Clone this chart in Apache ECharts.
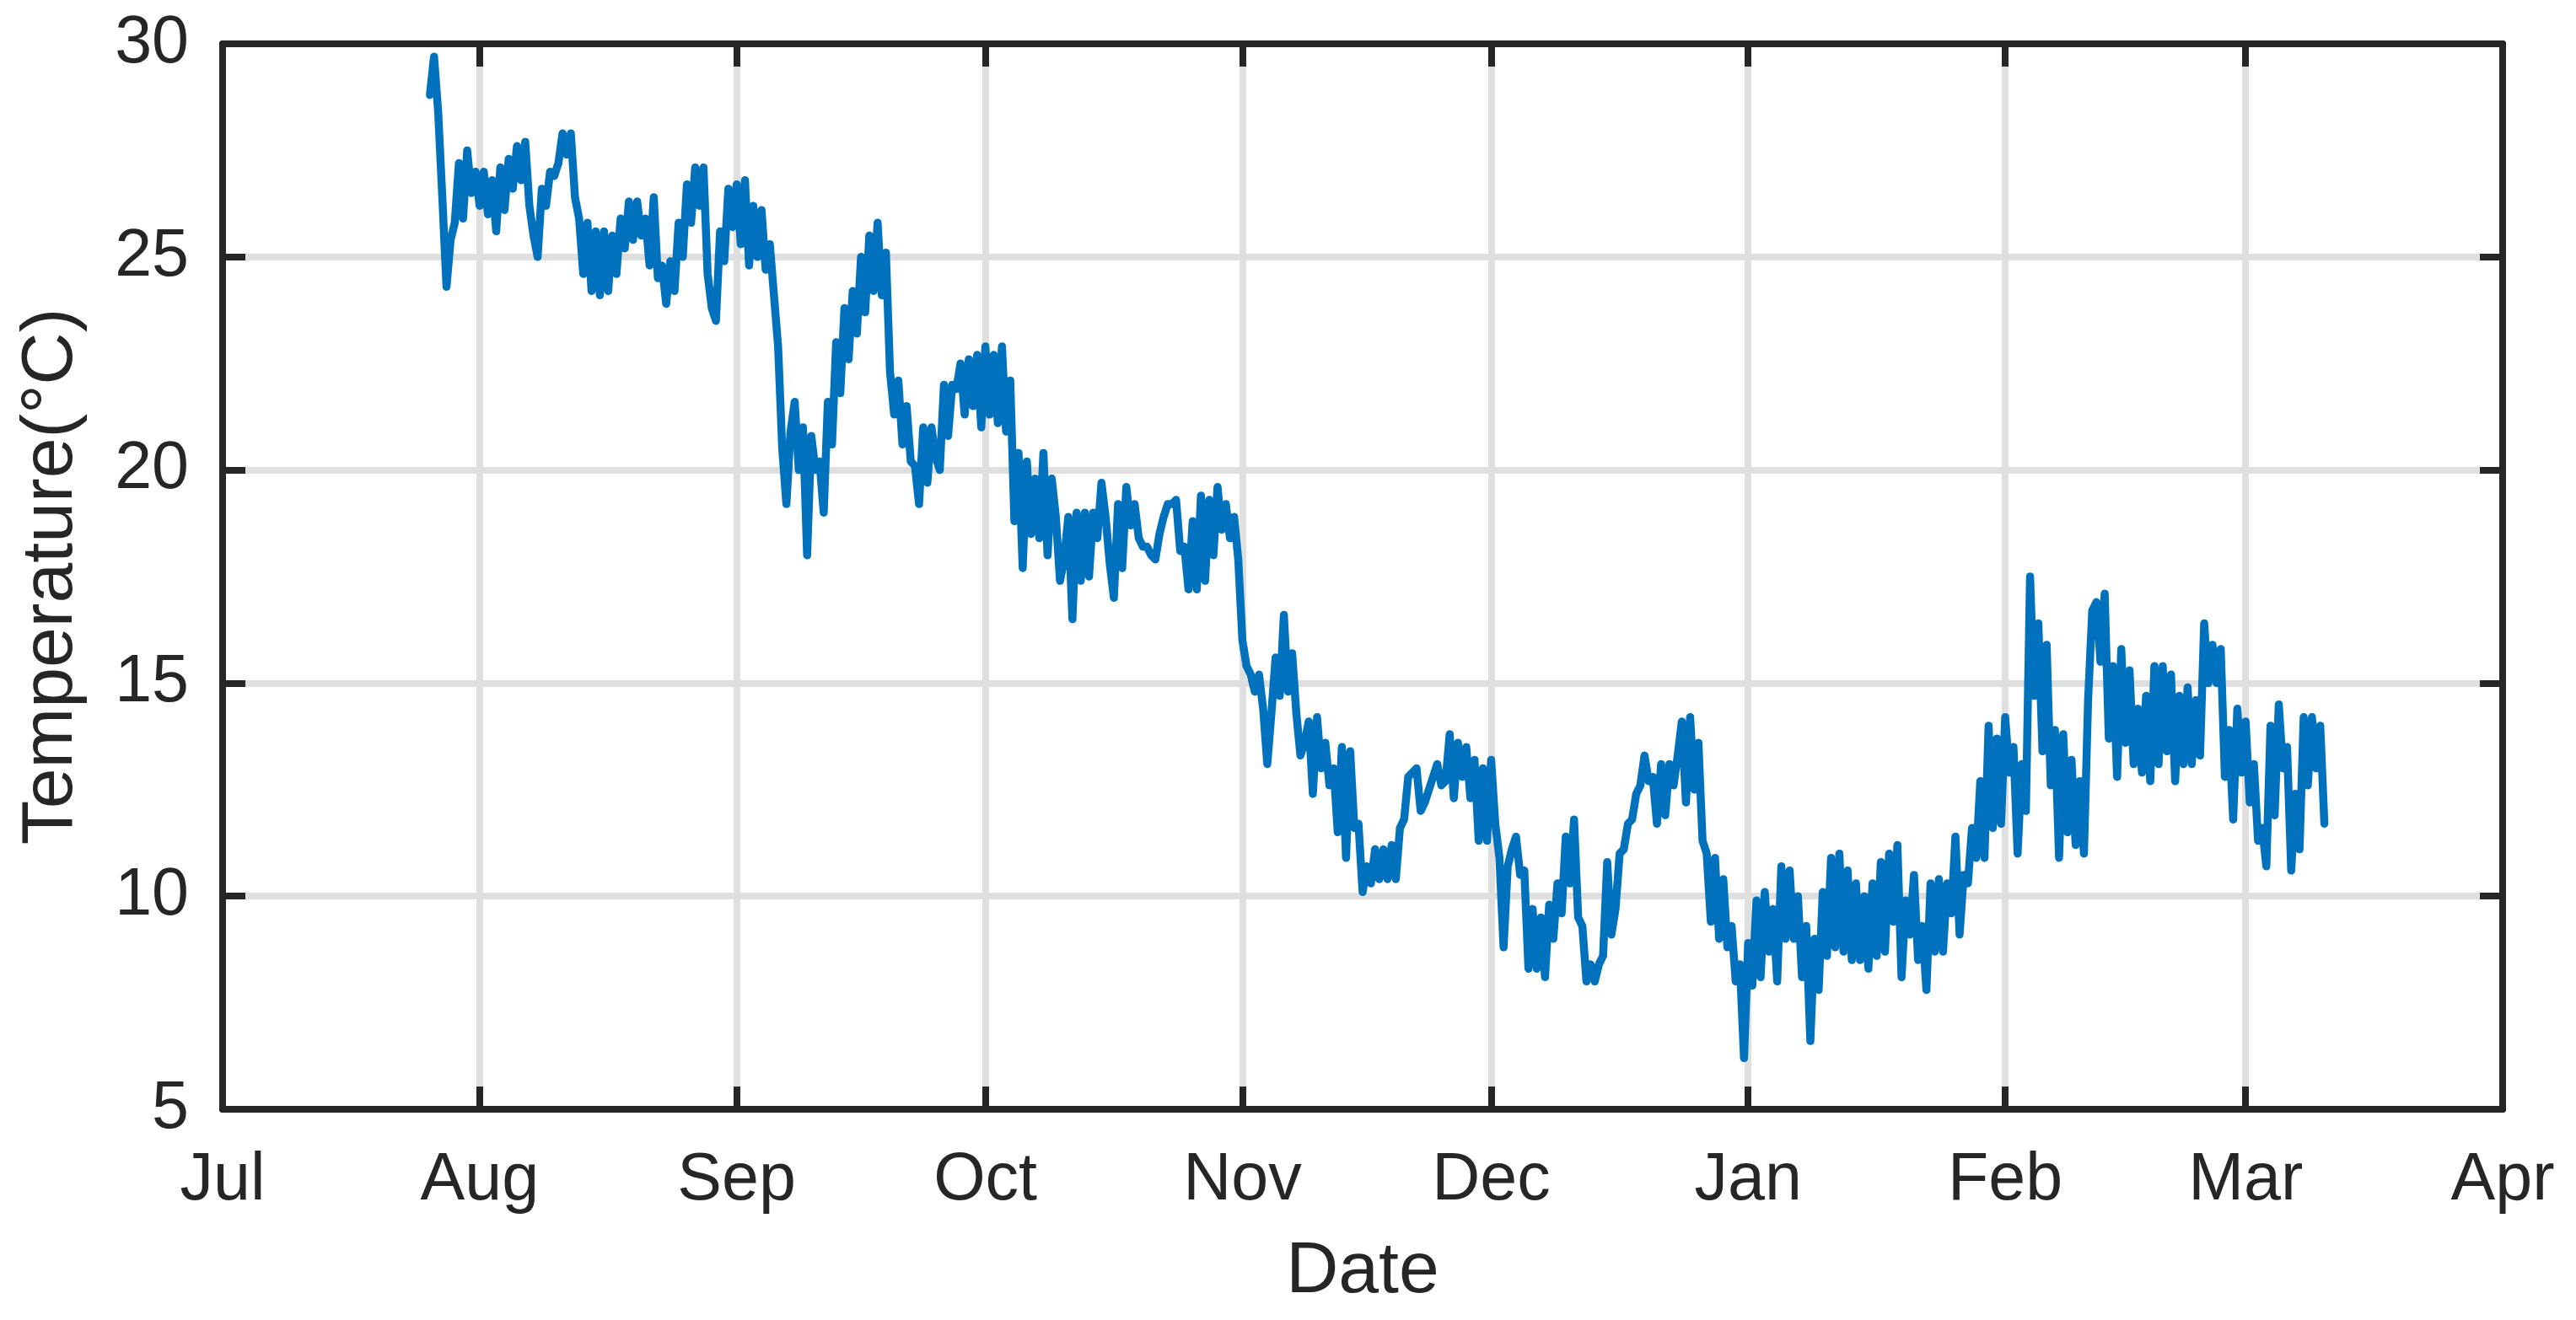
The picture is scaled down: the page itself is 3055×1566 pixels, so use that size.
<!DOCTYPE html>
<html>
<head>
<meta charset="utf-8">
<title>Temperature</title>
<script src="https://cdn.jsdelivr.net/npm/echarts@6.0.0/dist/echarts.min.js"></script>
<style>
    html, body { margin: 0; padding: 0; background: #fff; }
    #chart { width: 3055px; height: 1566px; }
</style>
</head>
<body>
<div id="chart"></div>
<script>
// readings: one every 12 hours, starting 2019-07-26 00:00
var startDate = [2019, 6, 26];
var stepHours = 12;

// x axis range: Jul 1 2019 .. Apr 1 2020
var axisStart = [2019, 6, 1];
var axisEnd = [2020, 3, 1];
var monthLabels = ['Jan', 'Feb', 'Mar', 'Apr', 'May', 'Jun', 'Jul', 'Aug', 'Sep', 'Oct', 'Nov', 'Dec'];

// y axis ticks
var yMin = 5;
var yMax = 30;
var yStep = 5;

// temperature (°C)
var temps = [
    // late Jul - Aug
    28.8, 29.7, 28.4, 26.4, 24.3, 25.4, 25.8, 27.2, 25.9, 27.5,
    26.5, 27.0, 26.2, 27.0, 26.0, 26.8, 25.6, 27.1, 26.1, 27.3,
    26.6, 27.6, 26.8, 27.7, 26.2, 25.5, 25.0, 26.6, 26.2, 27.0,
    26.9, 27.2, 27.9, 27.4, 27.9, 26.4, 25.9, 24.6, 25.8, 24.2,
    25.6, 24.1, 25.6, 24.2, 25.5, 24.6, 25.9, 25.2, 26.3, 25.4,
    26.3, 25.5, 25.9, 24.8, 26.4, 24.5, 24.8, 23.9, 24.9, 24.2,
    25.8, 25.0, 26.7, 25.8, 27.1,
    // end Aug - Sep
    26.2, 27.1, 24.6, 23.8, 23.5, 25.6, 24.9, 26.6, 25.7, 26.7,
    25.3, 26.8, 24.8, 26.2, 25.0, 26.1, 24.7, 25.3, 24.1, 22.9,
    20.5, 19.2, 20.9, 21.6, 20.0, 21.0, 18.0, 20.8, 20.0, 20.2,
    19.0, 21.6, 20.6, 23.0, 21.8, 23.8, 22.6, 24.2, 23.2, 25.0,
    23.7, 25.5, 24.2, 25.8, 24.1, 25.1, 22.3, 21.3, 22.1, 20.6,
    21.5, 20.2, 20.1, 19.2, 21.0, 19.7, 21.0, 20.3,
    // end Sep - Oct
    20.0, 22.0, 20.8, 22.0, 21.9, 22.5, 21.3, 22.6, 21.5, 22.7,
    21.0, 22.9, 21.3, 22.7, 21.1, 22.9, 20.9, 22.1, 18.8, 20.4,
    17.7, 20.2, 18.5, 19.8, 18.4, 20.4, 18.0, 19.8, 18.9, 17.4,
    17.9, 18.9, 16.5, 19.0, 17.4, 19.0, 17.5, 19.0, 18.4, 19.7,
    18.9, 17.8, 17.0, 19.2, 17.7, 19.6, 18.7, 19.2, 18.4, 18.2,
    18.2, 18.0, 17.9, 18.5, 18.9, 19.2, 19.2, 19.3, 18.1, 18.2,
    17.2, 18.8, 17.2, 19.4, 17.4,
    // end Oct - Nov
    19.3, 18.0, 19.6, 18.6, 19.2, 18.4, 18.9, 17.9, 16.0, 15.4,
    15.2, 14.8, 15.2, 14.4, 13.1, 14.3, 15.6, 14.7, 16.6, 14.8,
    15.7, 14.3, 13.3, 13.6, 14.1, 12.4, 14.2, 13.0, 13.6, 12.6,
    13.0, 11.5, 13.5, 10.9, 13.4, 11.6, 11.7, 10.1, 10.7, 10.3,
    11.1, 10.4, 11.1, 10.4, 11.2, 10.4, 11.6, 11.8, 12.8, 12.9,
    13.0, 12.0, 12.2, 12.5, 12.8, 13.1, 12.6, 12.7, 13.8, 12.3,
    13.6,
    // end Nov - Dec
    12.8, 13.5, 12.3, 13.2, 11.3, 13.0, 11.3, 13.2, 11.7, 10.9,
    8.8, 10.7, 11.1, 11.4, 10.5, 10.6, 8.3, 9.7, 8.3, 9.5,
    8.1, 9.8, 9.0, 10.3, 9.6, 11.4, 10.3, 11.8, 9.5, 9.3,
    8.0, 8.4, 8.0, 8.4, 8.6, 10.8, 9.1, 9.7, 11.0, 11.1,
    11.7, 11.8, 12.4, 12.6, 13.3, 12.7, 12.8, 11.7, 13.1, 11.9,
    13.1, 12.6, 13.3, 14.1, 12.2, 14.2, 12.5, 13.6, 11.3, 11.0,
    9.4,
    // end Dec - Jan
    10.9, 9.0, 10.4, 8.8, 9.3, 8.0, 8.4, 6.2, 8.9, 7.9,
    9.9, 8.1, 10.1, 8.7, 9.7, 8.0, 10.7, 9.0, 10.6, 9.0,
    10.0, 8.1, 9.3, 6.6, 9.0, 7.8, 10.1, 8.6, 10.9, 8.8,
    11.0, 8.7, 10.6, 8.5, 10.3, 8.5, 10.0, 8.3, 10.3, 8.6,
    10.8, 8.7, 11.0, 9.4, 11.2, 8.1, 9.9, 9.1, 10.5, 8.5,
    9.3, 7.8, 10.3, 8.7, 10.4, 8.7, 10.3, 9.6, 11.4, 9.1,
    10.5,
    // end Jan - Mar
    10.3, 11.6, 10.9, 12.7, 10.9, 14.0, 11.6, 13.7, 11.7, 14.2,
    12.9, 13.5, 11.0, 13.1, 12.0, 17.5, 14.7, 16.4, 13.4, 15.9,
    12.6, 13.9, 10.9, 13.8, 11.5, 13.2, 11.2, 12.7, 11.0, 14.6,
    16.7, 16.9, 15.5, 17.1, 13.7, 15.4, 12.8, 15.8, 13.6, 15.3,
    13.1, 14.4, 12.9, 14.7, 12.7, 15.4, 13.1, 15.4, 13.4, 15.2,
    12.7, 14.7, 13.1, 14.9, 13.1, 14.6, 13.3, 16.4, 15.0, 15.9,
    15.0, 15.8, 12.8, 13.9, 11.8, 14.4, 12.9, 14.1, 12.2, 13.1,
    11.3, 11.6, 10.7, 14.0, 11.9, 14.5, 13.0, 13.5, 10.6, 12.4,
    11.1, 14.2, 12.6, 14.2, 13.0, 14.0, 11.7
];

var DAY = 24 * 3600 * 1000;
var textColor = '#262626';
var gridColor = '#dfdfdf';
var lineColor = '#0072bd';
var fontFamily = '"Liberation Sans", Arial, Helvetica, sans-serif';

var t0 = new Date(startDate[0], startDate[1], startDate[2]).getTime();
var seriesData = [];
for (var i = 0; i < temps.length; i++) {
    seriesData.push([t0 + i * stepHours * 3600 * 1000, temps[i]]);
}

var xMin = new Date(axisStart[0], axisStart[1], axisStart[2]).getTime();
var xMax = new Date(axisEnd[0], axisEnd[1], axisEnd[2]).getTime();

function timeAxis(pos, withLabels) {
    return {
        type: 'time',
        position: pos,
        min: xMin,
        max: xMax,
        splitNumber: 9,
        minInterval: 28 * DAY,
        maxInterval: 31 * DAY,
        axisLine: { show: true, onZero: false, lineStyle: { color: textColor, width: 8 } },
        axisTick: { show: true, inside: true, length: 27, lineStyle: { color: textColor, width: 8 } },
        axisLabel: {
            show: withLabels,
            color: textColor,
            fontSize: 79,
            fontFamily: fontFamily,
            margin: 46,
            showMinLabel: true,
            showMaxLabel: true,
            formatter: function (v) {
                return monthLabels[new Date(v).getMonth()];
            }
        },
        splitLine: { show: withLabels, lineStyle: { color: gridColor, width: 8 } },
        name: withLabels ? 'Date' : '',
        nameLocation: 'middle',
        nameGap: 150,
        nameTextStyle: { color: textColor, fontSize: 86, fontFamily: fontFamily }
    };
}

function valueAxis(pos, withLabels) {
    return {
        type: 'value',
        position: pos,
        min: yMin,
        max: yMax,
        interval: yStep,
        axisLine: { show: true, onZero: false, lineStyle: { color: textColor, width: 8 } },
        axisTick: { show: true, inside: true, length: 27, lineStyle: { color: textColor, width: 8 } },
        axisLabel: {
            show: withLabels,
            color: textColor,
            fontSize: 79,
            fontFamily: fontFamily,
            margin: 40
        },
        splitLine: { show: withLabels, lineStyle: { color: gridColor, width: 8 } },
        name: withLabels ? 'Temperature(°C)' : '',
        nameLocation: 'middle',
        nameRotate: 90,
        nameGap: 160,
        nameTextStyle: { color: textColor, fontSize: 86, fontFamily: fontFamily }
    };
}

var chart = echarts.init(document.getElementById('chart'));
chart.setOption({
    animation: false,
    backgroundColor: '#ffffff',
    grid: { left: 264, right: 87, top: 52, bottom: 250, containLabel: false },
    xAxis: [timeAxis('bottom', true), timeAxis('top', false)],
    yAxis: [valueAxis('left', true), valueAxis('right', false)],
    series: [{
        type: 'line',
        xAxisIndex: 0,
        yAxisIndex: 0,
        data: seriesData,
        showSymbol: false,
        symbol: 'none',
        lineStyle: { color: lineColor, width: 9.5, cap: 'round', join: 'round' },
        z: 3
    }]
});
</script>
</body>
</html>
